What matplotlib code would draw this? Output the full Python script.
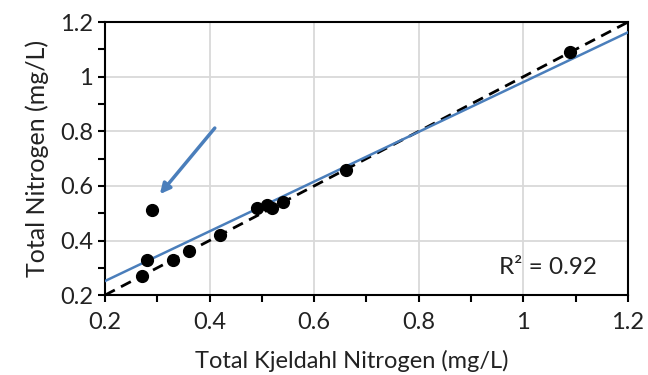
import numpy as np
import matplotlib
matplotlib.use("Agg")
import matplotlib.pyplot as plt
from matplotlib.ticker import MultipleLocator

# TKN vs TN (mg/L)
tkn = [0.27, 0.28, 0.29, 0.33, 0.36, 0.42, 0.49, 0.51, 0.52, 0.54, 0.66, 1.09]
tn = [0.27, 0.33, 0.51, 0.33, 0.36, 0.42, 0.52, 0.53, 0.52, 0.54, 0.66, 1.09]

x_ticks = [0.2, 0.4, 0.6, 0.8, 1.0, 1.2]
x_labels = ["0.2", "0.4", "0.6", "0.8", "1", "1.2"]
y_ticks = [0.2, 0.4, 0.6, 0.8, 1.0, 1.2]
y_labels = ["0.2", "0.4", "0.6", "0.8", "1", "1.2"]

x = np.array(tkn)
y = np.array(tn)
slope, intercept = np.polyfit(x, y, 1)
r2 = np.corrcoef(x, y)[0, 1] ** 2

plt.rcParams['font.family'] = ['Lato', 'DejaVu Sans']
fig = plt.figure(figsize=(6.48, 3.75), dpi=100)
ax = fig.add_axes([0.162, 0.213, 0.807, 0.728])

xx = np.array([0.2, 1.2])
ax.plot(xx, xx, color='black', lw=2, ls=(0, (4, 2.5)), zorder=3)
ax.plot(xx, slope * xx + intercept, color='#4a7ebb', lw=1.8, zorder=4)
ax.plot(x, y, 'o', color='black', ms=8.5, zorder=5)

# arrow pointing at the outlier
ax.annotate('', xy=(0.305, 0.57), xytext=(0.41, 0.812),
            arrowprops=dict(arrowstyle='-|>,head_length=0.6,head_width=0.3',
                            color='#4a7ebb', lw=2.5, shrinkA=0, shrinkB=0))

ax.text(0.953, 0.30, "R² = {:.2f}".format(r2), fontsize=17.5, va='center', ha='left', color='#222222')

ax.set_xlim(0.2, 1.2)
ax.set_ylim(0.2, 1.2)
ax.set_xticks(x_ticks)
ax.set_xticklabels(x_labels)
ax.set_yticks(y_ticks)
ax.set_yticklabels(y_labels)
ax.xaxis.set_minor_locator(MultipleLocator(0.1))
ax.yaxis.set_minor_locator(MultipleLocator(0.1))
ax.tick_params(which='both', direction='out', length=5, width=1.5, color='black',
               labelsize=17, labelcolor='#222222')
ax.tick_params(axis='x', pad=7)
ax.grid(True, which='major', color='#d9d9d9', lw=1.3)
ax.set_axisbelow(True)
for s in ax.spines.values():
    s.set_linewidth(1.5)
    s.set_color('black')

ax.set_xlabel("Total Kjeldahl Nitrogen (mg/L)", fontsize=17, color='#222222')
ax.xaxis.set_label_coords(0.472, -0.2)
ax.set_ylabel("Total Nitrogen (mg/L)", fontsize=18, color='#222222', labelpad=8)

fig.savefig("out.png", dpi=100)
